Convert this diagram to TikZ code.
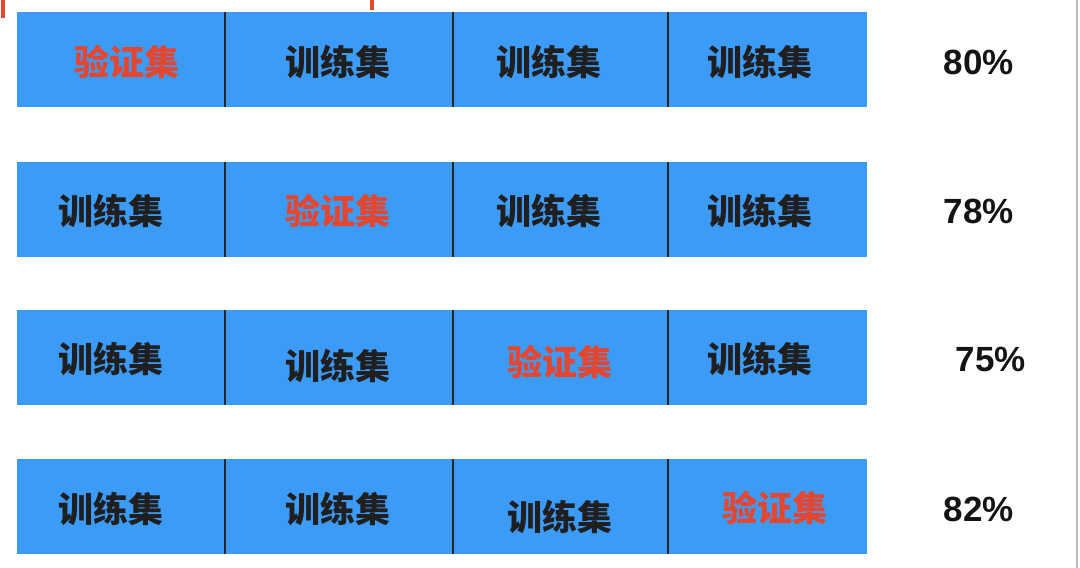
\documentclass[tikz,border=0pt]{standalone}
\usepackage{fontspec}
\setmainfont{Liberation Sans}
\newfontfamily\cjk{Noto Sans CJK SC}
\usepackage{xcolor}

\definecolor{barblue}{HTML}{3D9BF8}
\definecolor{validred}{HTML}{E5462F}

\begin{document}
\begin{tikzpicture}[x=1pt,y=-1pt,
  cut/.style={line width=2.8pt, black!85},
  train/.style={font=\cjk\bfseries\fontsize{35}{35}\selectfont, text=black!88, inner sep=0pt},
  valid/.style={train, text=validred},
  score/.style={font=\bfseries\fontsize{35}{35}\selectfont, text=black!92, inner sep=0pt}]
  \useasboundingbox (0,0) rectangle (1080,568);

  % the four folds, one bar each
  \foreach \t in {12,162,310,459}{
    \fill[barblue] (17,\t) rectangle (867,\t+95);
    \foreach \x in {225,453,668}{
      \draw[cut] (\x,\t) -- (\x,\t+95);
    }
  }

  % edge marks of the screen
  \draw[validred, line width=3.5pt] (3,0) -- (3,18);
  \draw[validred, line width=3.5pt] (372,0) -- (372,10);
  \draw[gray!55, line width=2pt] (1077,0) -- (1077,568);

  % fold 1
  \node[valid] (a1) at (127,62) {验证集};
  \node[train] (a2) at (338,62) {训练集};
  \node[train] (a3) at (549,62) {训练集};
  \node[train] (a4) at (760,62) {训练集};
  \node[score] (a5) at (979,62) {80\%};

  % fold 2
  \node[train] (b1) at (111,211) {训练集};
  \node[valid] (b2) at (338,211) {验证集};
  \node[train] (b3) at (549,211) {训练集};
  \node[train] (b4) at (760,211) {训练集};
  \node[score] (b5) at (979,211) {78\%};

  % fold 3
  \node[train] (c1) at (111,359) {训练集};
  \node[train] (c2) at (338,366) {训练集};
  \node[valid] (c3) at (560,362) {验证集};
  \node[train] (c4) at (760,359) {训练集};
  \node[score] (c5) at (991,359) {75\%};

  % fold 4
  \node[train] (d1) at (111,509) {训练集};
  \node[train] (d2) at (338,509) {训练集};
  \node[train] (d3) at (560,517) {训练集};
  \node[valid] (d4) at (775,508) {验证集};
  \node[score] (d5) at (979,509) {82\%};
\end{tikzpicture}
\end{document}
